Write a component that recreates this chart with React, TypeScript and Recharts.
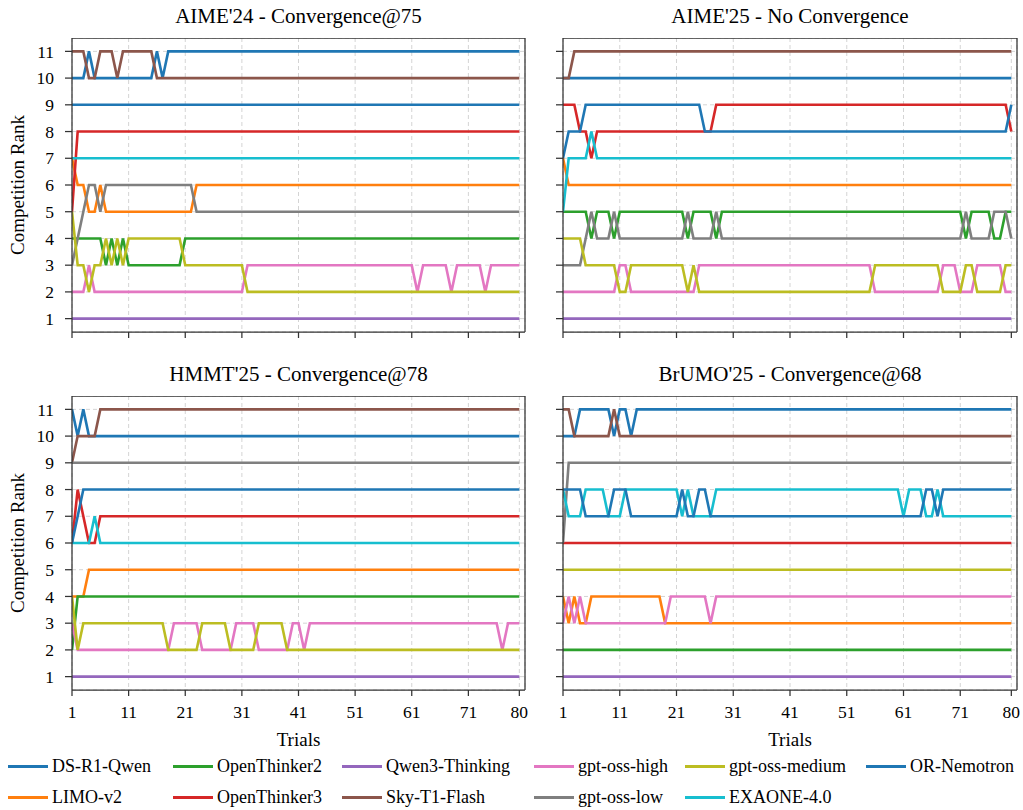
import React from 'react';
import { LineChart, Line, XAxis, YAxis, CartesianGrid, ReferenceLine } from 'recharts';

type Run = [number, number]; // [rank, number of consecutive trials]

// ---------- series definitions ----------
const SERIES_KEYS = ['ds', 'limo', 'ot2', 'ot3', 'qwen3', 'sky', 'gHigh', 'gLow', 'gMed', 'exaone', 'orn'];
const SERIES_NAMES = ['DS-R1-Qwen', 'LIMO-v2', 'OpenThinker2', 'OpenThinker3', 'Qwen3-Thinking', 'Sky-T1-Flash', 'gpt-oss-high', 'gpt-oss-low', 'gpt-oss-medium', 'EXAONE-4.0', 'OR-Nemotron'];
const SERIES_COLORS = ['#1f77b4', '#ff7f0e', '#2ca02c', '#d62728', '#9467bd', '#8c564b', '#e377c2', '#7f7f7f', '#bcbd22', '#17becf', '#1f77b4'];

const X_TICKS = [1, 11, 21, 31, 41, 51, 61, 71, 80];
const Y_TICKS = [1, 2, 3, 4, 5, 6, 7, 8, 9, 10, 11];
const TITLES = ["AIME'24 - Convergence@75", "AIME'25 - No Convergence", "HMMT'25 - Convergence@78", "BrUMO'25 - Convergence@68"];
const LEGEND_ROW1 = ['ds', 'ot2', 'qwen3', 'gHigh', 'gMed', 'orn'];
const LEGEND_ROW2 = ['limo', 'ot3', 'sky', 'gLow', 'exaone'];

// ---------- AIME'24 (ranks per trial, run-length) ----------
const AIME24_DS: Run[] = [[10, 3], [11, 1], [10, 11], [11, 1], [10, 1], [11, 63]];
const AIME24_LIMO: Run[] = [[7, 1], [6, 2], [5, 2], [6, 1], [5, 16], [6, 58]];
const AIME24_OT2: Run[] = [[4, 6], [3, 1], [4, 1], [3, 1], [4, 1], [3, 10], [4, 60]];
const AIME24_OT3: Run[] = [[5, 1], [8, 79]];
const AIME24_QWEN3: Run[] = [[1, 80]];
const AIME24_SKY: Run[] = [[11, 3], [10, 2], [11, 3], [10, 1], [11, 6], [10, 65]];
const AIME24_GHIGH: Run[] = [[2, 3], [3, 1], [2, 27], [3, 30], [2, 1], [3, 5], [2, 1], [3, 5], [2, 1], [3, 6]];
const AIME24_GLOW: Run[] = [[3, 1], [4, 1], [5, 1], [6, 2], [5, 1], [6, 16], [5, 58]];
const AIME24_GMED: Run[] = [[5, 1], [3, 2], [2, 1], [3, 2], [4, 1], [3, 1], [4, 1], [3, 1], [4, 10], [3, 11], [2, 49]];
const AIME24_EXAONE: Run[] = [[7, 80]];
const AIME24_ORN: Run[] = [[9, 80]];

// ---------- AIME'25 ----------
const AIME25_DS: Run[] = [[10, 80]];
const AIME25_LIMO: Run[] = [[7, 1], [6, 79]];
const AIME25_OT2: Run[] = [[5, 5], [4, 1], [5, 3], [4, 1], [5, 12], [4, 1], [5, 4], [4, 1], [5, 43], [4, 1], [5, 4], [4, 2], [5, 2]];
const AIME25_OT3: Run[] = [[9, 3], [8, 2], [7, 1], [8, 21], [9, 52], [8, 1]];
const AIME25_QWEN3: Run[] = [[1, 80]];
const AIME25_SKY: Run[] = [[10, 2], [11, 78]];
const AIME25_GHIGH: Run[] = [[2, 10], [3, 2], [2, 12], [3, 31], [2, 12], [3, 3], [2, 3], [3, 5], [2, 2]];
const AIME25_GLOW: Run[] = [[3, 4], [4, 1], [5, 1], [4, 3], [5, 1], [4, 12], [5, 1], [4, 4], [5, 1], [4, 43], [5, 1], [4, 4], [5, 3], [4, 1]];
const AIME25_GMED: Run[] = [[4, 4], [3, 6], [2, 2], [3, 10], [2, 1], [3, 1], [2, 31], [3, 12], [2, 4], [3, 2], [2, 5], [3, 2]];
const AIME25_EXAONE: Run[] = [[5, 1], [7, 4], [8, 1], [7, 74]];
const AIME25_ORN: Run[] = [[7, 1], [8, 3], [9, 21], [8, 54], [9, 1]];

// ---------- HMMT'25 ----------
const HMMT25_DS: Run[] = [[11, 1], [10, 1], [11, 1], [10, 77]];
const HMMT25_LIMO: Run[] = [[4, 3], [5, 77]];
const HMMT25_OT2: Run[] = [[2, 1], [4, 79]];
const HMMT25_OT3: Run[] = [[6, 1], [8, 1], [7, 1], [6, 2], [7, 75]];
const HMMT25_QWEN3: Run[] = [[1, 80]];
const HMMT25_SKY: Run[] = [[9, 1], [10, 4], [11, 75]];
const HMMT25_GHIGH: Run[] = [[3, 1], [2, 17], [3, 5], [2, 6], [3, 4], [2, 6], [3, 2], [2, 1], [3, 34], [2, 1], [3, 3]];
const HMMT25_GLOW: Run[] = [[9, 80]];
const HMMT25_GMED: Run[] = [[4, 1], [2, 1], [3, 15], [2, 6], [3, 5], [2, 5], [3, 5], [2, 42]];
const HMMT25_EXAONE: Run[] = [[6, 4], [7, 1], [6, 75]];
const HMMT25_ORN: Run[] = [[6, 1], [7, 1], [8, 78]];

// ---------- BrUMO'25 ----------
const BRUMO25_DS: Run[] = [[10, 3], [11, 6], [10, 1], [11, 2], [10, 1], [11, 67]];
const BRUMO25_LIMO: Run[] = [[4, 1], [3, 1], [4, 1], [3, 2], [4, 13], [3, 62]];
const BRUMO25_OT2: Run[] = [[2, 80]];
const BRUMO25_OT3: Run[] = [[6, 80]];
const BRUMO25_QWEN3: Run[] = [[1, 80]];
const BRUMO25_SKY: Run[] = [[11, 2], [10, 7], [11, 1], [10, 70]];
const BRUMO25_GHIGH: Run[] = [[3, 1], [4, 1], [3, 1], [4, 1], [3, 15], [4, 7], [3, 1], [4, 53]];
const BRUMO25_GLOW: Run[] = [[6, 1], [9, 79]];
const BRUMO25_GMED: Run[] = [[5, 80]];
const BRUMO25_EXAONE: Run[] = [[8, 1], [7, 3], [8, 4], [7, 3], [8, 10], [7, 1], [8, 1], [7, 4], [8, 33], [7, 1], [8, 3], [7, 2], [8, 1], [7, 13]];
const BRUMO25_ORN: Run[] = [[8, 4], [7, 5], [8, 3], [7, 9], [8, 1], [7, 2], [8, 2], [7, 38], [8, 2], [7, 1], [8, 13]];

const PANEL_RUNS: Record<string, Run[]>[] = [
  { ds: AIME24_DS, limo: AIME24_LIMO, ot2: AIME24_OT2, ot3: AIME24_OT3, qwen3: AIME24_QWEN3, sky: AIME24_SKY, gHigh: AIME24_GHIGH, gLow: AIME24_GLOW, gMed: AIME24_GMED, exaone: AIME24_EXAONE, orn: AIME24_ORN },
  { ds: AIME25_DS, limo: AIME25_LIMO, ot2: AIME25_OT2, ot3: AIME25_OT3, qwen3: AIME25_QWEN3, sky: AIME25_SKY, gHigh: AIME25_GHIGH, gLow: AIME25_GLOW, gMed: AIME25_GMED, exaone: AIME25_EXAONE, orn: AIME25_ORN },
  { ds: HMMT25_DS, limo: HMMT25_LIMO, ot2: HMMT25_OT2, ot3: HMMT25_OT3, qwen3: HMMT25_QWEN3, sky: HMMT25_SKY, gHigh: HMMT25_GHIGH, gLow: HMMT25_GLOW, gMed: HMMT25_GMED, exaone: HMMT25_EXAONE, orn: HMMT25_ORN },
  { ds: BRUMO25_DS, limo: BRUMO25_LIMO, ot2: BRUMO25_OT2, ot3: BRUMO25_OT3, qwen3: BRUMO25_QWEN3, sky: BRUMO25_SKY, gHigh: BRUMO25_GHIGH, gLow: BRUMO25_GLOW, gMed: BRUMO25_GMED, exaone: BRUMO25_EXAONE, orn: BRUMO25_ORN },
];

function expand(runs: Run[]): number[] {
  const out: number[] = [];
  runs.forEach(([v, n]) => {
    for (let k = 0; k < n; k++) out.push(v);
  });
  return out;
}

function buildRows(runs: Record<string, Run[]>) {
  const expanded: Record<string, number[]> = {};
  SERIES_KEYS.forEach((k) => (expanded[k] = expand(runs[k])));
  const n = expanded[SERIES_KEYS[0]].length;
  const rows: any[] = [];
  for (let i = 0; i < n; i++) {
    const row: any = { trial: i + 1 };
    SERIES_KEYS.forEach((k) => (row[k] = expanded[k][i]));
    rows.push(row);
  }
  return rows;
}

const FONT = '"Liberation Serif", "DejaVu Serif", serif';
const SPINE = '#333333';

type PanelProps = {
  idx: number;
  plotLeft: number;
  plotTop: number;
  plotW: number;
  plotH: number;
  showY: boolean;
  showX: boolean;
};

function Panel({ idx, plotLeft, plotTop, plotW, plotH, showY, showX }: PanelProps) {
  const rows = buildRows(PANEL_RUNS[idx]);
  const yW = showY ? 72 : 10;
  const xH = showX ? 40 : 10;
  const rightM = 3;
  return (
    <>
      <div
        style={{
          position: 'absolute',
          left: plotLeft,
          top: plotTop - 34,
          width: plotW,
          textAlign: 'center',
          fontFamily: FONT,
          fontSize: 21,
          lineHeight: '24px',
          color: '#000',
        }}
      >
        {TITLES[idx]}
      </div>
      <div style={{ position: 'absolute', left: plotLeft - yW, top: plotTop }}>
        <LineChart
          width={yW + plotW + rightM}
          height={plotH + xH}
          data={rows}
          margin={{ top: 0, right: rightM, bottom: 0, left: 0 }}
        >
          <CartesianGrid stroke="#d4d4d4" strokeDasharray="4 3" strokeWidth={1} />
          <XAxis
            dataKey="trial"
            type="number"
            domain={[1, 81]}
            ticks={X_TICKS}
            allowDataOverflow
            height={xH}
            tickSize={6}
            tickMargin={10}
            axisLine={{ stroke: SPINE, strokeWidth: 1.25 }}
            tickLine={{ stroke: SPINE, strokeWidth: 1.25 }}
            tick={{ fill: '#000', fontSize: 17.5, fontFamily: FONT }}
            tickFormatter={(v: number) => (showX ? String(v) : '')}
            interval={0}
          />
          <YAxis
            type="number"
            domain={[0.5, 11.5]}
            ticks={Y_TICKS}
            allowDataOverflow
            width={yW}
            tickSize={7}
            tickMargin={11}
            axisLine={{ stroke: SPINE, strokeWidth: 1.25 }}
            tickLine={{ stroke: SPINE, strokeWidth: 1.25 }}
            tick={{ fill: '#000', fontSize: 17.5, fontFamily: FONT }}
            tickFormatter={(v: number) => (showY ? String(v) : '')}
            interval={0}
          />
          {SERIES_KEYS.map((k, i) => (
            <Line
              key={k}
              dataKey={k}
              name={SERIES_NAMES[i]}
              stroke={SERIES_COLORS[i]}
              strokeWidth={2.6}
              dot={false}
              activeDot={false}
              type="linear"
              isAnimationActive={false}
            />
          ))}
          <ReferenceLine y={11.5} stroke={SPINE} strokeWidth={1.25} />
          <ReferenceLine x={81} stroke={SPINE} strokeWidth={1.25} />
        </LineChart>
      </div>
      {showY && (
        <div
          style={{
            position: 'absolute',
            left: 18 - 100,
            top: plotTop + plotH / 2 - 12,
            width: 200,
            height: 24,
            lineHeight: '24px',
            textAlign: 'center',
            transform: 'rotate(-90deg)',
            fontFamily: FONT,
            fontSize: 19,
            color: '#000',
          }}
        >
          Competition Rank
        </div>
      )}
      {showX && (
        <div
          style={{
            position: 'absolute',
            left: plotLeft,
            top: 728,
            width: plotW,
            lineHeight: '24px',
            textAlign: 'center',
            fontFamily: FONT,
            fontSize: 19,
            color: '#000',
          }}
        >
          Trials
        </div>
      )}
    </>
  );
}

const LEGEND_COLS = [8, 173, 342, 534, 685, 866];
const LEGEND_ROWS_Y = [766, 797];

function Legend() {
  const items: React.ReactNode[] = [];
  [LEGEND_ROW1, LEGEND_ROW2].forEach((row, r) => {
    row.forEach((key, c) => {
      const i = SERIES_KEYS.indexOf(key);
      const x = LEGEND_COLS[c];
      const y = LEGEND_ROWS_Y[r];
      items.push(
        <div key={key} style={{ position: 'absolute', left: x, top: y - 12, height: 24, width: 170 }}>
          <div style={{ position: 'absolute', left: 0, top: 10.5, width: 40, height: 3, background: SERIES_COLORS[i] }} />
          <div
            style={{
              position: 'absolute',
              left: 44,
              top: 0,
              lineHeight: '24px',
              fontFamily: FONT,
              fontSize: 18,
              color: '#000',
              whiteSpace: 'nowrap',
            }}
          >
            {SERIES_NAMES[i]}
          </div>
        </div>
      );
    });
  });
  return <>{items}</>;
}

export default function App() {
  return (
    <div style={{ position: 'absolute', left: 0, top: 0, width: 1023, height: 810, background: '#fff', overflow: 'hidden' }}>
      <Panel idx={0} plotLeft={72} plotTop={38} plotW={453} plotH={294} showY={true} showX={false} />
      <Panel idx={1} plotLeft={563} plotTop={38} plotW={454} plotH={294} showY={false} showX={false} />
      <Panel idx={2} plotLeft={72} plotTop={396} plotW={453} plotH={294} showY={true} showX={true} />
      <Panel idx={3} plotLeft={563} plotTop={396} plotW={454} plotH={294} showY={false} showX={true} />
      <Legend />
    </div>
  );
}
